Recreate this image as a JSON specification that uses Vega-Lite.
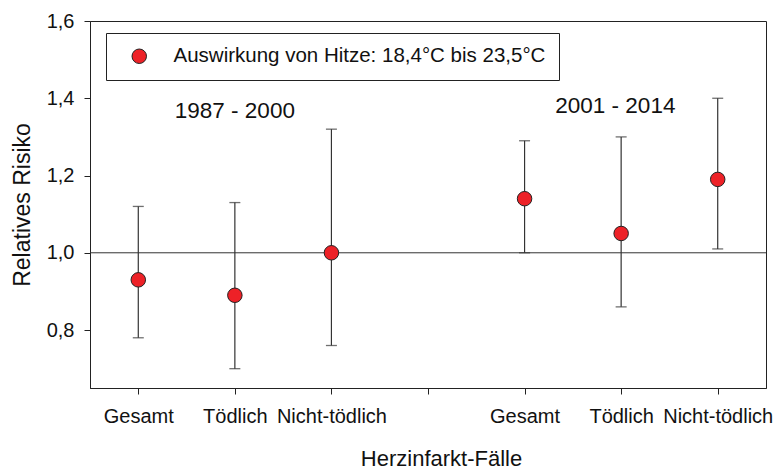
{
  "$schema": "https://vega.github.io/schema/vega-lite/v6.json",
  "width": 676,
  "height": 367,
  "autosize": {"type": "none"},
  "padding": {"left": 90, "top": 21, "right": 10, "bottom": 83},
  "background": "white",
  "config": {
    "font": "Liberation Sans",
    "view": {"stroke": "#222", "strokeWidth": 1},
    "axis": {
      "grid": false,
      "domainColor": "#222",
      "tickColor": "#222",
      "labelColor": "#111",
      "titleColor": "#111",
      "labelFont": "Liberation Sans",
      "titleFont": "Liberation Sans",
      "titleFontWeight": "normal"
    }
  },
  "data": {
    "values": [
      {"x": 1, "period": "1987 - 2000", "cat": "Gesamt", "rr": 0.93, "lo": 0.78, "hi": 1.12, "series": "Auswirkung von Hitze: 18,4°C bis 23,5°C"},
      {"x": 2, "period": "1987 - 2000", "cat": "Tödlich", "rr": 0.89, "lo": 0.70, "hi": 1.13, "series": "Auswirkung von Hitze: 18,4°C bis 23,5°C"},
      {"x": 3, "period": "1987 - 2000", "cat": "Nicht-tödlich", "rr": 1.00, "lo": 0.76, "hi": 1.32, "series": "Auswirkung von Hitze: 18,4°C bis 23,5°C"},
      {"x": 5, "period": "2001 - 2014", "cat": "Gesamt", "rr": 1.14, "lo": 1.00, "hi": 1.29, "series": "Auswirkung von Hitze: 18,4°C bis 23,5°C"},
      {"x": 6, "period": "2001 - 2014", "cat": "Tödlich", "rr": 1.05, "lo": 0.86, "hi": 1.30, "series": "Auswirkung von Hitze: 18,4°C bis 23,5°C"},
      {"x": 7, "period": "2001 - 2014", "cat": "Nicht-tödlich", "rr": 1.19, "lo": 1.01, "hi": 1.40, "series": "Auswirkung von Hitze: 18,4°C bis 23,5°C"}
    ]
  },
  "encoding": {
    "x": {
      "field": "x",
      "type": "quantitative",
      "scale": {"domain": [0.5, 7.5], "nice": false, "zero": false},
      "axis": {
        "title": "Herzinfarkt-Fälle",
        "titleFontSize": 22,
        "titlePadding": 22,
        "titleX": 351,
        "values": [1, 2, 3, 4, 5, 6, 7],
        "labelExpr": "['', 'Gesamt', 'Tödlich', 'Nicht-tödlich', '', 'Gesamt', 'Tödlich', 'Nicht-tödlich'][datum.value]",
        "labelFontSize": 20,
        "labelPadding": 12,
        "tickSize": 6,
        "labelOverlap": false,
        "labelFlush": false
      }
    },
    "y": {
      "field": "rr",
      "type": "quantitative",
      "scale": {"domain": [0.65, 1.6], "nice": false, "zero": false},
      "axis": {
        "title": "Relatives Risiko",
        "titleFontSize": 23,
        "titlePadding": 12,
        "values": [0.8, 1.0, 1.2, 1.4, 1.6],
        "labelExpr": "replace(format(datum.value, '.1f'), '.', ',')",
        "labelFontSize": 20,
        "labelPadding": 10,
        "tickSize": 6,
        "labelOverlap": false,
        "labelFlush": false
      }
    }
  },
  "layer": [
    {
      "data": {"values": [{"ref": 1}]},
      "mark": {"type": "rule", "color": "#333", "strokeWidth": 1},
      "encoding": {"y": {"field": "ref", "type": "quantitative"}, "x": null}
    },
    {
      "mark": {"type": "rule", "color": "#333", "strokeWidth": 1.2},
      "encoding": {"y": {"field": "lo", "type": "quantitative"}, "y2": {"field": "hi"}}
    },
    {
      "mark": {"type": "tick", "orient": "horizontal", "color": "#333", "size": 11, "thickness": 1.3},
      "encoding": {"y": {"field": "lo", "type": "quantitative"}}
    },
    {
      "mark": {"type": "tick", "orient": "horizontal", "color": "#333", "size": 11, "thickness": 1.3},
      "encoding": {"y": {"field": "hi", "type": "quantitative"}}
    },
    {
      "mark": {"type": "point", "filled": true, "size": 210, "stroke": "#222", "strokeWidth": 1, "opacity": 1, "shape": "circle"},
      "encoding": {
        "color": {
          "field": "series",
          "type": "nominal",
          "scale": {"range": ["#ED2127"]},
          "legend": {
            "title": null,
            "orient": "none",
            "legendX": 16,
            "legendY": 12,
            "padding": 13,
            "strokeColor": "#222",
            "fillColor": "white",
            "symbolType": "circle",
            "symbolSize": 210,
            "symbolStrokeColor": "#222",
            "symbolStrokeWidth": 1,
            "symbolOffset": 10,
            "labelFontSize": 20.5,
            "labelColor": "#111",
            "labelOffset": 24,
            "labelLimit": 500
          }
        }
      }
    },
    {
      "data": {"values": [{"px": 2, "py": 1.349, "label": "1987 - 2000"}, {"px": 5.94, "py": 1.362, "label": "2001 - 2014"}]},
      "mark": {"type": "text", "fontSize": 22.5, "color": "#111", "align": "center", "baseline": "alphabetic"},
      "encoding": {
        "x": {"field": "px", "type": "quantitative"},
        "y": {"field": "py", "type": "quantitative"},
        "text": {"field": "label", "type": "nominal"}
      }
    }
  ]
}
